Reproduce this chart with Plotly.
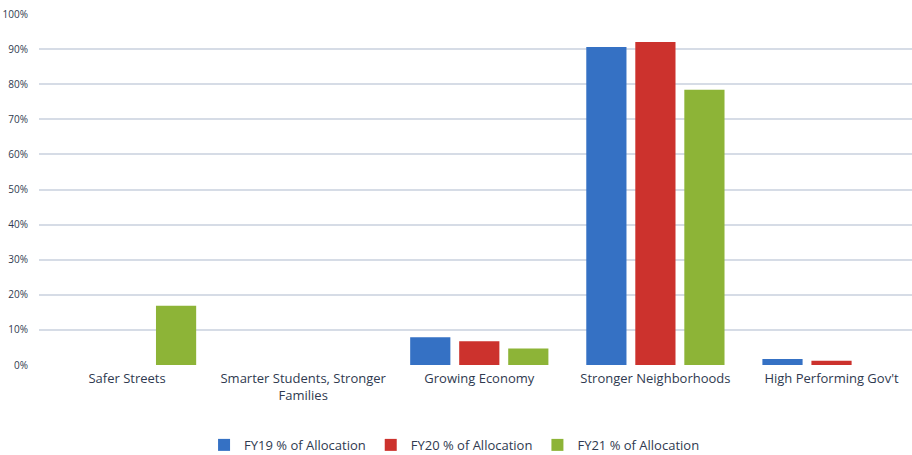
import plotly.graph_objects as go

categories = ["Safer Streets", "Smarter Students, Stronger<br>Families", "Growing Economy",
              "Stronger Neighborhoods", "High Performing Gov't"]
fy19 = [0.0, 0.0, 0.079, 0.906, 0.017]
fy20 = [0.0, 0.0, 0.068, 0.920, 0.012]
fy21 = [0.169, 0.0, 0.047, 0.784, 0.0]
series_names = ["FY19 % of Allocation", "FY20 % of Allocation", "FY21 % of Allocation"]
colors = ["#3571c4", "#cc322d", "#8db437"]
tick_vals = [i / 10 for i in range(11)]
tick_text = [f"{i*10}%" for i in range(11)]

fig = go.Figure()
for name, vals, c in zip(series_names, [fy19, fy20, fy21], colors):
    fig.add_trace(go.Bar(x=categories, y=vals, name=name, marker=dict(color=c, line=dict(width=0))))

txt = "#2f3a50"
fig.update_layout(
    width=912, height=455,
    barmode="group", bargap=0.165, bargroupgap=0.18,
    plot_bgcolor="white", paper_bgcolor="white",
    margin=dict(l=39, r=0, t=14, b=89.5, autoexpand=False),
    font=dict(family="Open Sans", size=12, color=txt),
    legend=dict(orientation="h", x=0.476, xanchor="center", y=-0.185, yanchor="top",
                font=dict(size=13, color=txt), itemwidth=30, traceorder="normal"),
    showlegend=True,
)
fig.update_yaxes(range=[0, 1], tickvals=tick_vals, ticktext=tick_text, showgrid=True,
                 gridcolor="#d6dce6", gridwidth=2, zeroline=False, showline=False,
                 tickfont=dict(size=10, color=txt), ticklabelstandoff=10, automargin=False)
fig.update_xaxes(range=[-0.5, 4.457], showline=False, tickfont=dict(size=13, color=txt),
                 automargin=False, ticklabelstandoff=4)

fig.write_html("out.html", config={"displayModeBar": False},
               post_script="document.body.style.margin='0';document.body.style.overflow='hidden';")
